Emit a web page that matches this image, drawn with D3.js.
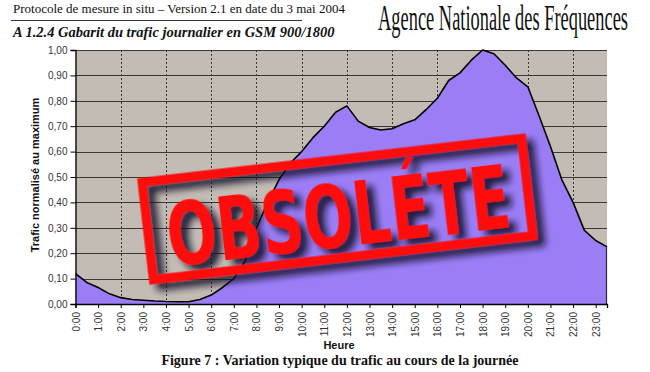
<!DOCTYPE html>
<html>
<head>
<meta charset="utf-8">
<script src="https://cdn.jsdelivr.net/npm/d3@7/dist/d3.min.js"></script>
<style>
  html, body { margin: 0; padding: 0; background: #ffffff; }
  svg { display: block; }
</style>
</head>
<body>
<svg id="chart" width="650" height="372"></svg>
<script>
// ---------- data ----------
const times = ["0:00","0:30","1:00","1:30","2:00","2:30","3:00","3:30","4:00","4:30","5:00","5:30",
  "6:00","6:30","7:00","7:30","8:00","8:30","9:00","9:30","10:00","10:30","11:00","11:30",
  "12:00","12:30","13:00","13:30","14:00","14:30","15:00","15:30","16:00","16:30","17:00","17:30",
  "18:00","18:30","19:00","19:30","20:00","20:30","21:00","21:30","22:00","22:30","23:00","23:30"];
const traffic = [0.12,0.085,0.065,0.04,0.025,0.018,0.015,0.012,0.01,0.009,0.009,0.018,
  0.035,0.065,0.10,0.17,0.30,0.40,0.49,0.555,0.60,0.655,0.70,0.755,
  0.78,0.72,0.695,0.685,0.69,0.71,0.725,0.765,0.81,0.88,0.91,0.96,
  1.00,0.985,0.94,0.89,0.855,0.74,0.62,0.49,0.40,0.29,0.25,0.225];
const xTickLabels = ["0:00","1:00","2:00","3:00","4:00","5:00","6:00","7:00","8:00","9:00","10:00","11:00",
  "12:00","13:00","14:00","15:00","16:00","17:00","18:00","19:00","20:00","21:00","22:00","23:00"];
const xGridLabels = ["2:00","4:00","6:00","8:00","10:00","12:00","14:00","16:00","18:00","20:00","22:00"];
const yTickValues = [0,0.1,0.2,0.3,0.4,0.5,0.6,0.7,0.8,0.9,1.0];
const yTickLabels = ["0,00","0,10","0,20","0,30","0,40","0,50","0,60","0,70","0,80","0,90","1,00"];

const headerText = "Protocole de mesure in situ \u2013 Version 2.1 en date du 3 mai 2004";
const sectionTitle = "A 1.2.4 Gabarit du trafic journalier en GSM 900/1800";
const agencyText = "Agence Nationale des Fr\u00e9quences";
const yTitle = "Trafic normalis\u00e9 au maximum";
const xTitle = "Heure";
const caption = "Figure 7 : Variation typique du trafic au cours de la journ\u00e9e";
const stampText = "OBSOL\u00c9TE";

// ---------- layout ----------
const svg = d3.select("#chart");
const pLeft = 75.5, pRight = 607, pTop = 50, pBottom = 304;

const x = d3.scalePoint().domain(times).range([pLeft, pRight]).padding(0);
const y = d3.scaleLinear().domain([0, 1]).range([pBottom, pTop]);

const sans = "'Liberation Sans', Arial, sans-serif";
const serif = "'Liberation Serif', 'Times New Roman', serif";

// defs: stamp shadow
const defs = svg.append("defs");
const flt = defs.append("filter").attr("id", "shadow")
  .attr("x", "-20%").attr("y", "-40%").attr("width", "140%").attr("height", "180%");
flt.append("feGaussianBlur").attr("in", "SourceAlpha").attr("stdDeviation", 3.5).attr("result", "b");
flt.append("feOffset").attr("in", "b").attr("dx", 7).attr("dy", 7).attr("result", "o");
flt.append("feFlood").attr("flood-color", "#15102a").attr("flood-opacity", 0.9).attr("result", "c");
flt.append("feComposite").attr("in", "c").attr("in2", "o").attr("operator", "in").attr("result", "s");
const mrg = flt.append("feMerge");
mrg.append("feMergeNode").attr("in", "s");
mrg.append("feMergeNode").attr("in", "SourceGraphic");

// ---------- header ----------
svg.append("text").attr("x", 13).attr("y", 13)
  .style("font-family", serif).style("font-size", "13px").attr("fill", "#111")
  .text(headerText);
svg.append("line").attr("x1", 11).attr("x2", 302).attr("y1", 20.5).attr("y2", 20.5)
  .attr("stroke", "#333").attr("stroke-width", 1);
svg.append("text").attr("x", 13).attr("y", 37)
  .style("font-family", serif).style("font-size", "14.5px").style("font-weight", "bold")
  .style("font-style", "italic").attr("fill", "#111")
  .text(sectionTitle);
svg.append("text").attr("transform", "translate(378,30) scale(1,1.8)")
  .style("font-family", serif).style("font-size", "19.5px").attr("fill", "#111")
  .attr("textLength", 250).attr("lengthAdjust", "spacingAndGlyphs")
  .text(agencyText);

// ---------- plot background ----------
svg.append("rect").attr("x", pLeft).attr("y", pTop).attr("width", pRight - pLeft).attr("height", pBottom - pTop)
  .attr("fill", "#c2bcb4");

// horizontal grid
svg.append("g").selectAll("line").data(yTickValues.filter(d => d > 0)).join("line")
  .attr("x1", pLeft).attr("x2", pRight)
  .attr("y1", d => Math.round(y(d)) + 0.5).attr("y2", d => Math.round(y(d)) + 0.5)
  .attr("stroke", "#3a3835").attr("stroke-width", 1);

// vertical dotted grid
svg.append("g").selectAll("line").data(xGridLabels).join("line")
  .attr("x1", d => Math.round(x(d)) + 0.5).attr("x2", d => Math.round(x(d)) + 0.5)
  .attr("y1", pTop).attr("y2", pBottom)
  .attr("stroke", "#3a3835").attr("stroke-width", 1).attr("stroke-dasharray", "2,2");

// ---------- area ----------
const area = d3.area().x((d, i) => x(times[i])).y0(pBottom).y1(d => y(d));
const line = d3.line().x((d, i) => x(times[i])).y(d => y(d));
svg.append("path").datum(traffic).attr("d", area).attr("fill", "#9b7ef6");
svg.append("path").datum(traffic).attr("d", line).attr("fill", "none")
  .attr("stroke", "#000").attr("stroke-width", 1.6).attr("stroke-linejoin", "round");
svg.append("line").attr("x1", pRight - 0.5).attr("x2", pRight - 0.5)
  .attr("y1", y(traffic[traffic.length - 1])).attr("y2", pBottom)
  .attr("stroke", "#2a2440").attr("stroke-width", 1.2);

// ---------- axes ----------
const yAxis = d3.axisLeft(y).tickValues(yTickValues)
  .tickFormat((d, i) => yTickLabels[i]).tickSize(5).tickPadding(3);
const gy = svg.append("g").attr("transform", `translate(${pLeft},0)`).call(yAxis);
gy.select(".domain").attr("stroke", "#000").attr("stroke-width", 1.3);
gy.selectAll(".tick line").attr("stroke", "#000");
gy.selectAll("text").style("font-family", sans).style("font-size", "10px").attr("fill", "#333");

const xAxis = d3.axisBottom(x).tickValues(xTickLabels)
  .tickFormat(d => d).tickSize(4).tickPadding(3);
const gx = svg.append("g").attr("transform", `translate(0,${pBottom})`).call(xAxis);
gx.select(".domain").attr("stroke", "#000").attr("stroke-width", 1.3);
gx.selectAll(".tick line").attr("stroke", "#000");
gx.selectAll("text").style("font-family", sans).style("font-size", "10px").attr("fill", "#333")
  .attr("transform", "rotate(-90)").attr("text-anchor", "end")
  .attr("x", -8).attr("y", 0).attr("dy", "0.35em");

// axis titles
svg.append("text").attr("transform", `translate(39,${(pTop + pBottom) / 2 - 2}) rotate(-90)`)
  .attr("text-anchor", "middle")
  .style("font-family", sans).style("font-size", "11px").style("font-weight", "bold").attr("fill", "#111")
  .text(yTitle);
svg.append("text").attr("x", 339).attr("y", 349).attr("text-anchor", "middle")
  .style("font-family", sans).style("font-size", "11px").style("font-weight", "bold").attr("fill", "#111")
  .text(xTitle);

// caption
svg.append("text").attr("x", 340).attr("y", 365).attr("text-anchor", "middle")
  .style("font-family", serif).style("font-size", "14px").style("font-weight", "bold").attr("fill", "#111")
  .text(caption);

// ---------- stamp ----------
const stamp = svg.append("g").attr("transform", "translate(337.5,209) rotate(-6.6)")
  .attr("filter", "url(#shadow)");
stamp.append("rect").attr("x", -191).attr("y", -49).attr("width", 382).attr("height", 98)
  .attr("fill", "none").attr("stroke", "#ff0d0d").attr("stroke-width", 9);
stamp.append("text").attr("x", 0).attr("y", 38).attr("text-anchor", "middle")
  .style("font-family", "'Liberation Sans Narrow', 'DejaVu Sans Condensed', 'Liberation Sans', sans-serif")
  .style("font-weight", "bold").style("font-size", "88px")
  .attr("textLength", 345).attr("lengthAdjust", "spacingAndGlyphs")
  .attr("fill", "#ff0d0d")
  .text(stampText);
</script>
</body>
</html>
